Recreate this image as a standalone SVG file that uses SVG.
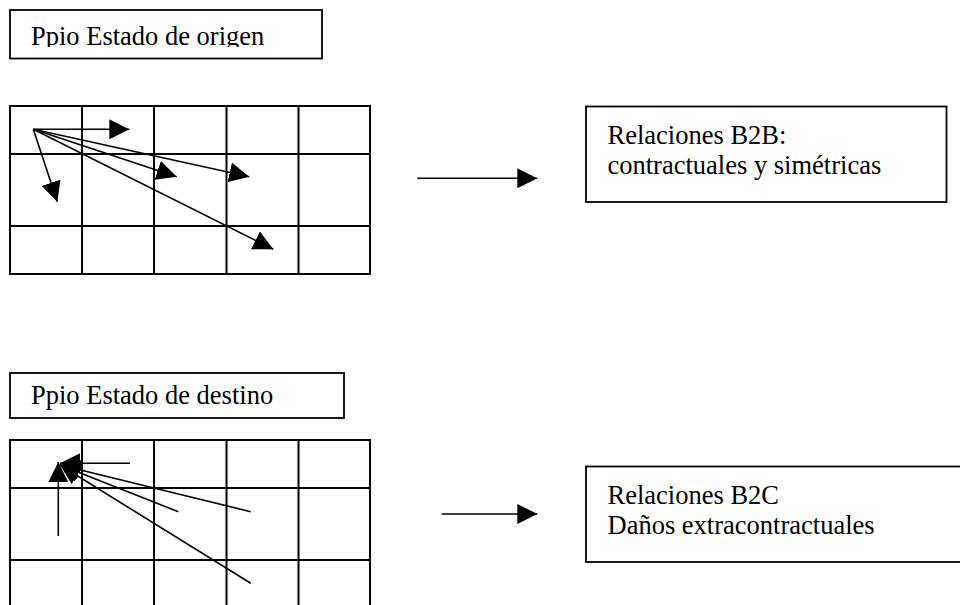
<svg xmlns="http://www.w3.org/2000/svg" width="960" height="605" viewBox="0 0 960 605">
<style>
.box{fill:#fff;stroke:#000;stroke-width:1.8}
.grid{fill:none;stroke:#000;stroke-width:2}
.t{font-family:"Liberation Serif","Times New Roman",serif;font-size:26.5px;fill:#000}
.arr{stroke:#000;stroke-width:1.6;fill:none;marker-end:url(#ah)}
</style>
<defs>
<marker id="ah" markerUnits="userSpaceOnUse" markerWidth="20" markerHeight="20" refX="20" refY="10" orient="auto" viewBox="0 0 20 20">
<path d="M0,0 L20,10 L0,20 Z" fill="#000"/>
</marker>
<clipPath id="clipTop"><rect x="10" y="10" width="312" height="37"/></clipPath>
</defs>
<rect width="960" height="605" fill="#fff"/>

<g id="label-origen">
<rect class="box" x="10" y="10" width="312" height="48.5"/>
<text class="t" x="31" y="45" clip-path="url(#clipTop)">Ppio Estado de origen</text>
</g>

<g id="grid-origen">
<rect class="grid" x="10" y="106" width="360" height="168"/>
<path class="grid" d="M82,106V274M154,106V274M226.5,106V274M298.5,106V274M10,154H370M10,226H370"/>
</g>

<g id="box-b2b">
<rect class="box" x="586" y="106.5" width="360.5" height="95.5"/>
<text class="t" x="607.5" y="144">Relaciones B2B:</text>
<text class="t" x="607.5" y="174">contractuales y simétricas</text>
</g>

<g id="label-destino">
<rect class="box" x="10" y="373" width="334" height="45"/>
<text class="t" x="31" y="404">Ppio Estado de destino</text>
</g>

<g id="grid-destino">
<rect class="grid" x="10" y="440" width="360" height="170"/>
<path class="grid" d="M82,440V610M154,440V610M226.5,440V610M298.5,440V610M10,488H370M10,560H370"/>
</g>

<g id="box-b2c">
<rect class="box" x="586" y="466.5" width="380" height="95.5"/>
<text class="t" x="607.5" y="504">Relaciones B2C</text>
<text class="t" x="607.5" y="534">Daños extracontractuales</text>
</g>

<g id="connectors">
<line class="arr" x1="33.3" y1="129.3" x2="129.3" y2="129.3"/>
<line class="arr" x1="33.3" y1="129.3" x2="57.3" y2="201.7"/>
<line class="arr" x1="33.3" y1="129.3" x2="176.7" y2="176.7"/>
<line class="arr" x1="33.3" y1="129.3" x2="249.3" y2="176.7"/>
<line class="arr" x1="33.3" y1="129.3" x2="273.3" y2="249.3"/>
<line class="arr" x1="417.3" y1="178.3" x2="537.3" y2="178.3"/>

<line class="arr" x1="130" y1="463.3" x2="60" y2="463.3"/>
<line class="arr" x1="250.7" y1="511.7" x2="60" y2="465"/>
<line class="arr" x1="178.3" y1="511.7" x2="60" y2="465"/>
<line class="arr" x1="250.7" y1="583.3" x2="60" y2="465"/>
<line class="arr" x1="58.3" y1="536" x2="58.3" y2="462"/>
<line class="arr" x1="441.7" y1="514" x2="537.3" y2="514"/>
</g>
</svg>
